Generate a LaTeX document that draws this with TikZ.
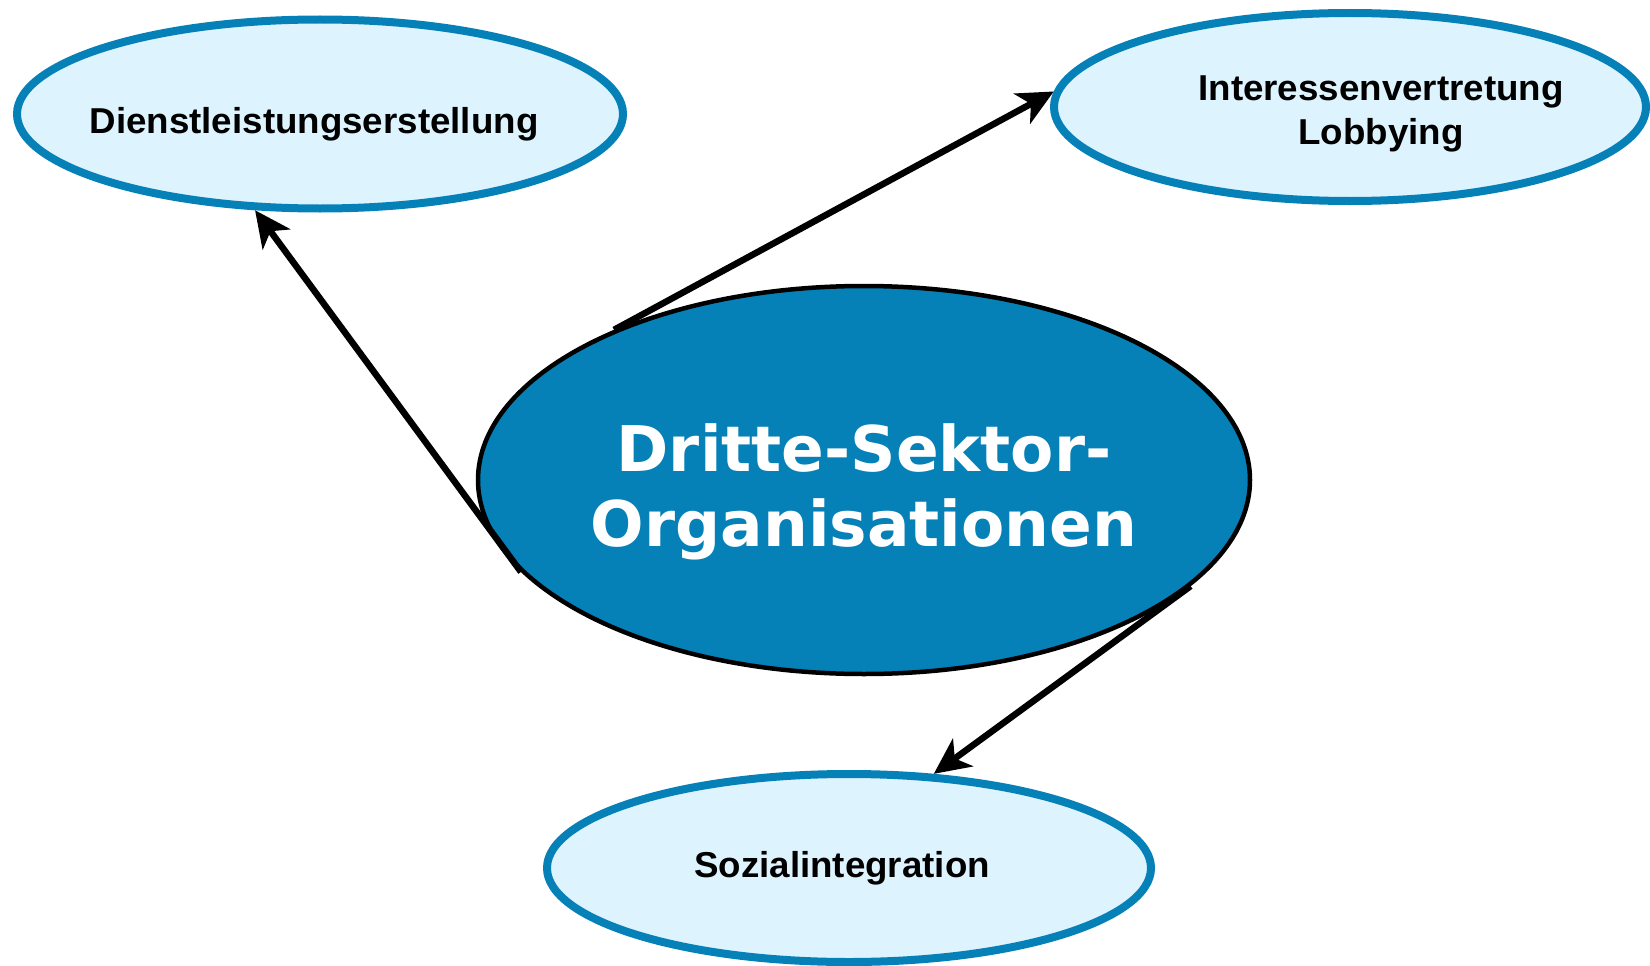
\documentclass[tikz,border=0pt]{standalone}
\usepackage{fontspec}
\usetikzlibrary{arrows.meta,shapes.geometric}
\newfontfamily\titlefont{DejaVu Sans}
\newfontfamily\labelfont{Liberation Sans}[FakeStretch=1.02]
\definecolor{dsblue}{HTML}{0681B8}
\definecolor{dslight}{HTML}{DDF3FD}

\begin{document}
\begin{tikzpicture}[x=1pt,y=-1pt,
  hub/.style={ellipse, draw=black, line width=4.5pt, fill=dsblue,
    minimum width=772pt, minimum height=388pt, inner sep=0pt},
  task/.style={ellipse, draw=dsblue, line width=8pt, fill=dslight, inner sep=0pt},
  tasktext/.style={font=\labelfont\bfseries\fontsize{36}{44}\selectfont,
    align=center, anchor=base, text=black, inner sep=0pt},
  hubtext/.style={font=\titlefont\bfseries\fontsize{63}{75}\selectfont,
    align=center, anchor=base, text=white, inner sep=0pt},
  link/.style={line width=6.5pt, -{Stealth[length=36pt,width=34pt,inset=10pt]}}]
\useasboundingbox (0,0) rectangle (1650,966);

% outer task ellipses
\node[task, minimum width=606pt, minimum height=189pt] (dienst) at (320,114) {};
\node[task, minimum width=592pt, minimum height=188pt] (lobby) at (1350,107) {};
\node[task, minimum width=604pt, minimum height=188pt] (sozial) at (849,868) {};

% central organisation ellipse
\node[hub] (dso) at (864,480) {};

% labels (base anchor sits on the last line of a multi-line node)
\node[tasktext] (dienstT) at (314,133) {Dienstleistungserstellung};
\node[tasktext] (lobbyT) at (1381,144) {Interessenvertretung\\Lobbying};
\node[tasktext] (sozialT) at (842,877) {Sozialintegration};
\node[hubtext] (dsoT) at (864,546) {Dritte-Sektor-\\Organisationen};

% connectors
\draw[link] (dso.195.4) -- (dienst.236.4);
\draw[link] (dso.149.8) -- (lobby.177.2);
\draw[link] (dso.342.9) -- (sozial.48);
\end{tikzpicture}
\end{document}
